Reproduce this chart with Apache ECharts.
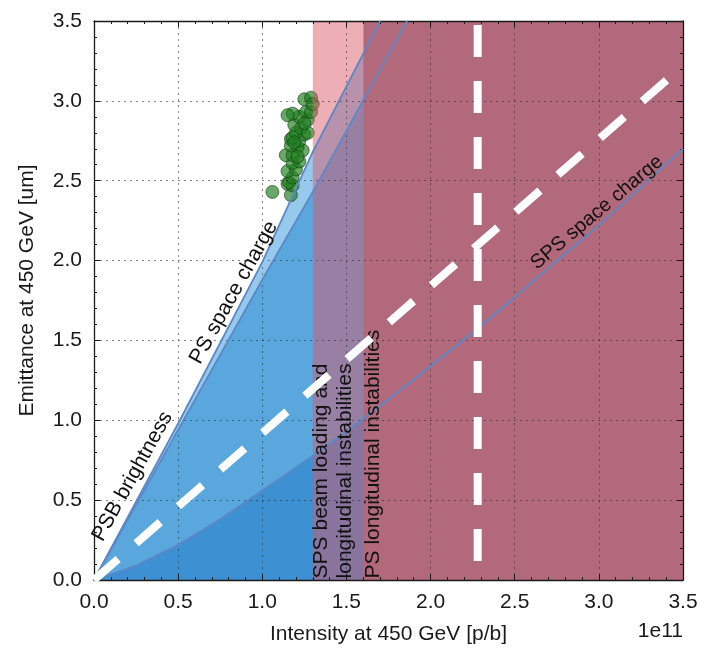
<!DOCTYPE html>
<html><head><meta charset="utf-8">
<script src="https://cdn.jsdelivr.net/npm/echarts@6/dist/echarts.min.js"></script>
<style>html,body{margin:0;padding:0;background:#fff}#c{width:718px;height:650px}</style>
</head><body><div id="c"></div>
<script>
// ---- data ----
const upperX = [0, 0.5, 1.0, 1.3, 1.70];          // PSB brightness limit
const upperY = [0, 0.98, 1.99, 2.68, 3.5];
const lowerX = [0, 1.0, 1.3, 1.86];               // PS space charge limit
const lowerY = [0, 1.88, 2.43, 3.5];
const spsX = [0, 0.25, 0.5, 0.75, 1.0, 1.25, 1.5, 1.75, 2.0, 2.25, 2.5, 2.75, 3.0, 3.25, 3.5];
const spsY = [0, 0.09, 0.22, 0.38, 0.56, 0.74, 0.93, 1.13, 1.34, 1.55, 1.77, 2.0, 2.22, 2.46, 2.70];
const bandStart = [1.3, 1.6];
const bandEnd = [1.6, 3.5];
const diagX = [0, 3.5], diagY = [0, 3.22];
const vertX = [2.28, 2.28], vertY = [3.5, 0];
const scatterX = [1.06,1.17,1.15,1.18,1.16,1.18,1.15,1.20,1.18,1.22,1.14,1.18,1.24,1.21,1.17,1.22,1.17,1.18,1.25,1.20,1.23,1.19,1.27,1.22,1.18,1.15,1.26,1.29,1.25,1.29,1.27,1.21,1.19,1.25,1.30];
const scatterY = [2.43,2.41,2.48,2.47,2.49,2.52,2.56,2.57,2.61,2.62,2.66,2.66,2.69,2.71,2.72,2.75,2.76,2.77,2.79,2.80,2.83,2.85,2.88,2.90,2.92,2.91,2.93,2.93,3.01,3.02,2.80,2.65,2.74,2.86,2.98];
const xTitle = 'Intensity at 450 GeV [p/b]';
const yTitle = 'Emittance at 450 GeV [um]';

// ---- chart ----
const FONT = '"Liberation Sans", Arial, sans-serif';
const TXT = '#1a1a1a';
const zip = (xs, ys) => xs.map((x, i) => [x, ys[i]]);
const chart = echarts.init(document.getElementById('c'), null, {renderer: 'canvas'});

function axisBase(pos, main) {
  return {
    type: 'value', min: 0, max: 3.5, interval: 0.5, position: pos, z: 4,
    axisLine: {show: true, onZero: false, lineStyle: {color: TXT, width: 1.3}},
    axisTick: {show: true, inside: true, length: 6, lineStyle: {color: TXT, width: 1}},
    minorTick: {show: true, splitNumber: 5, length: 3, lineStyle: {color: TXT, width: 1}},
    splitLine: {show: main, lineStyle: {color: 'rgba(40,40,40,0.55)', type: [2, 4], width: 1}},
    axisLabel: {show: main, fontSize: 21, color: TXT, fontFamily: FONT, margin: 12,
      formatter: v => v.toFixed(1)}
  };
}

const lineStyleBlue = {color: '#5b88c6', width: 1.8};
const areaSeries = (xs, ys, color) => ({
  type: 'line', data: zip(xs, ys), symbol: 'none', z: 1, silent: true,
  lineStyle: {width: 0}, areaStyle: {color: color, opacity: 1}
});
const edgeSeries = (xs, ys) => ({
  type: 'line', data: zip(xs, ys), symbol: 'none', z: 5, silent: true,
  lineStyle: lineStyleBlue
});
const bandSeries = (i, color) => ({
  type: 'line', data: [[bandStart[i], 3.5], [bandEnd[i], 3.5]], symbol: 'none', z: 3, silent: true,
  lineStyle: {width: 0}, areaStyle: {color: color, opacity: 1}
});

const labelItems = [
  {value: [1.42, 0.01], label: {formatter: 'SPS beam loading and\nlongitudinal instabilities', rotate: 90, align: 'left', verticalAlign: 'middle', lineHeight: 24}},
  {value: [1.66, 0.01], label: {formatter: 'PS longitudinal instabilities', rotate: 90, align: 'left', verticalAlign: 'middle'}},
  {value: [0.075, 0.22], label: {formatter: 'PSB brightness', rotate: 61, align: 'left', verticalAlign: 'bottom'}},
  {value: [0.655, 1.33], label: {formatter: 'PS space charge', rotate: 61, align: 'left', verticalAlign: 'bottom'}},
  {value: [2.65, 1.92], label: {formatter: 'SPS space charge', rotate: 40, align: 'left', verticalAlign: 'bottom', fontSize: 20}}
];

const option = {
  animation: false,
  grid: {left: 94, right: 35, top: 21, bottom: 68},
  xAxis: [
    Object.assign(axisBase('bottom', true), {name: xTitle, nameLocation: 'middle', nameGap: 44,
      nameTextStyle: {fontSize: 21, color: TXT, fontFamily: FONT}}),
    axisBase('top', false)
  ],
  yAxis: [
    Object.assign(axisBase('left', true), {name: yTitle, nameLocation: 'middle', nameGap: 56,
      nameTextStyle: {fontSize: 21, color: TXT, fontFamily: FONT, padding: [0, 0, 0, 20]}}),
    axisBase('right', false)
  ],
  graphic: [{type: 'text', right: 35, top: 621, z: 10,
    style: {text: '1e11', font: '21px "Liberation Sans", Arial, sans-serif', fill: TXT}}],
  series: [
    areaSeries(upperX, upperY, '#97c9ec'),
    areaSeries(lowerX, lowerY, '#5aa7de'),
    areaSeries(spsX, spsY, '#3d90d2'),
    {type: 'scatter', data: zip(scatterX, scatterY), z: 2, symbolSize: 13, silent: true,
      itemStyle: {color: 'rgba(34,128,34,0.85)', borderColor: 'rgba(15,60,15,0.75)', borderWidth: 1}},
    bandSeries(0, 'rgba(220,85,100,0.48)'),
    bandSeries(1, '#b2697b'),
    edgeSeries(upperX, upperY),
    edgeSeries(lowerX, lowerY),
    edgeSeries(spsX, spsY),
    {type: 'scatter', data: labelItems, symbolSize: 0, z: 6, silent: true,
      label: {show: true, position: [0, 0], fontSize: 21, color: '#111', fontFamily: FONT, opacity: 1}},
    {type: 'line', data: zip(diagX, diagY), symbol: 'none', z: 7, silent: true,
      lineStyle: {color: '#fff', width: 8, type: [32, 24], cap: 'butt'}},
    {type: 'line', data: zip(vertX, vertY), symbol: 'none', z: 7, silent: true,
      lineStyle: {color: '#fff', width: 8, type: [32, 24], cap: 'butt', dashOffset: -4}}
  ]
};
chart.setOption(option);
</script></body></html>
